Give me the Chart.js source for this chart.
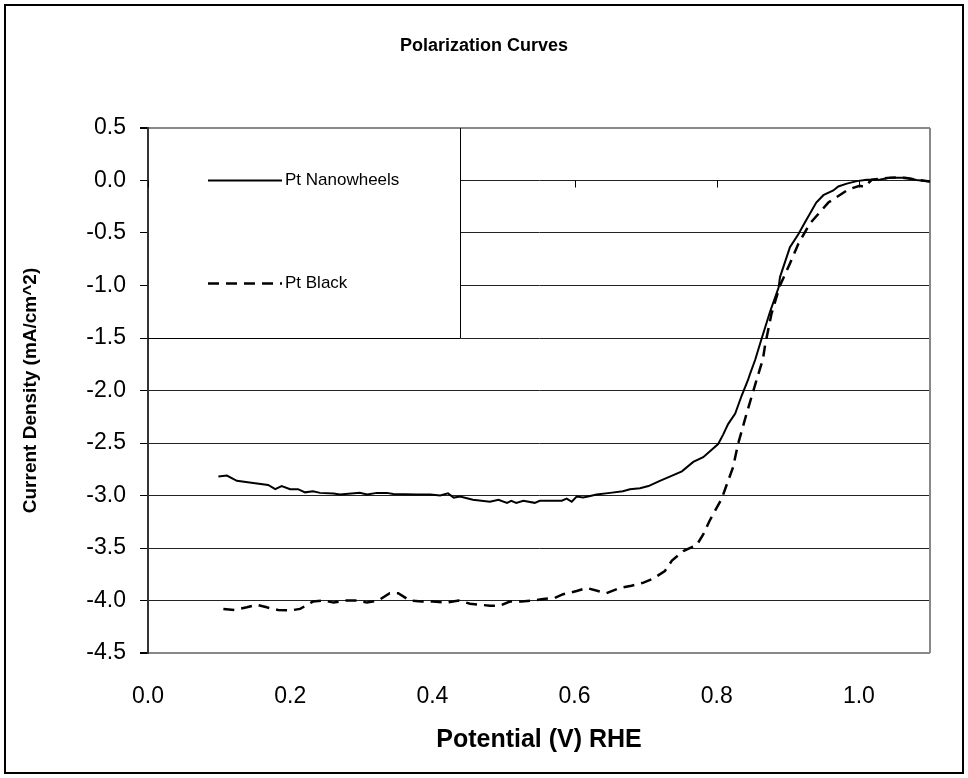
<!DOCTYPE html>
<html>
<head>
<meta charset="utf-8">
<title>Polarization Curves</title>
<script src="https://cdn.jsdelivr.net/npm/chart.js@4.4.0/dist/chart.umd.min.js"></script>
<style>
  html, body { margin: 0; padding: 0; background: #fff; }
  canvas { display: block; }
</style>
</head>
<body>
<canvas id="polarChart" width="968" height="778"></canvas>
<script>
// Potential (V vs RHE) and current density (mA/cm^2)
const potentialNanowheels = [
    0.099, 0.111, 0.125, 0.148, 0.169, 0.179, 0.188, 0.200, 0.211, 0.221,
    0.232, 0.242, 0.261, 0.270, 0.298, 0.308, 0.322, 0.336, 0.345, 0.378,
    0.397, 0.411, 0.422, 0.430, 0.439, 0.457, 0.481, 0.493, 0.505, 0.511,
    0.518, 0.528, 0.544, 0.551, 0.582, 0.589, 0.596, 0.603, 0.612, 0.619,
    0.631, 0.650, 0.668, 0.678, 0.692, 0.704, 0.720, 0.734, 0.751, 0.767,
    0.781, 0.802, 0.809, 0.816, 0.826, 0.835, 0.844, 0.847, 0.854, 0.863,
    0.875, 0.887, 0.889, 0.903, 0.915, 0.924, 0.940, 0.950, 0.964, 0.971,
    0.983, 0.997, 1.011, 1.030, 1.044, 1.067, 1.081, 1.100
];
const currentNanowheels = [
    -2.82, -2.81, -2.86, -2.88, -2.90, -2.94, -2.91, -2.94, -2.94, -2.97,
    -2.96, -2.975, -2.98, -2.99, -2.975, -2.99, -2.975, -2.975, -2.985, -2.99,
    -2.99, -3.00, -2.98, -3.02, -3.01, -3.04, -3.06, -3.04, -3.07, -3.05,
    -3.07, -3.05, -3.07, -3.05, -3.05, -3.03, -3.06, -3.01, -3.02, -3.01,
    -2.99, -2.975, -2.96, -2.94, -2.93, -2.91, -2.86, -2.82, -2.77, -2.68,
    -2.635, -2.51, -2.42, -2.32, -2.22, -2.05, -1.90, -1.84, -1.71, -1.51,
    -1.25, -1.02, -0.92, -0.635, -0.51, -0.40, -0.21, -0.14, -0.095, -0.057,
    -0.03, -0.006, 0.007, 0.01, 0.026, 0.026, 0.005, -0.01
];
const potentialBlack = [
    0.106, 0.122, 0.139, 0.153, 0.167, 0.183, 0.200, 0.214, 0.232, 0.247,
    0.261, 0.277, 0.294, 0.308, 0.324, 0.340, 0.352, 0.368, 0.385, 0.401,
    0.420, 0.437, 0.453, 0.481, 0.495, 0.509, 0.525, 0.542, 0.556, 0.572,
    0.584, 0.603, 0.617, 0.633, 0.645, 0.664, 0.680, 0.697, 0.711, 0.727,
    0.737, 0.753, 0.772, 0.781, 0.790, 0.807, 0.823, 0.830, 0.842, 0.856,
    0.865, 0.868, 0.877, 0.889, 0.903, 0.915, 0.931, 0.957, 0.985, 1.001,
    1.008, 1.018, 1.040, 1.055, 1.070, 1.085, 1.100
];
const currentBlack = [
    -4.08, -4.09, -4.065, -4.04, -4.065, -4.09, -4.095, -4.08, -4.01, -4.00,
    -4.02, -4.00, -4.00, -4.02, -4.00, -3.93, -3.93, -4.00, -4.01, -4.01,
    -4.02, -4.00, -4.03, -4.05, -4.05, -4.01, -4.01, -4.00, -3.985, -3.975,
    -3.94, -3.91, -3.88, -3.91, -3.93, -3.88, -3.86, -3.83, -3.79, -3.72,
    -3.62, -3.53, -3.47, -3.37, -3.24, -3.03, -2.73, -2.51, -2.22, -1.90,
    -1.70, -1.57, -1.27, -1.00, -0.79, -0.60, -0.41, -0.21, -0.086, -0.05,
    -0.06, 0.007, 0.025, 0.03, 0.02, 0.005, -0.01
];

const chartTitle = 'Polarization Curves';
const seriesNames = ['Pt Nanowheels', 'Pt Black'];
const xTickValues = [0.0, 0.2, 0.4, 0.6, 0.8, 1.0];
const yTickValues = [0.5, 0.0, -0.5, -1.0, -1.5, -2.0, -2.5, -3.0, -3.5, -4.0, -4.5];

const fontFamily = '"Liberation Sans", Arial, sans-serif';

function toPoints(xs, ys) {
    return xs.map((x, i) => ({ x: x, y: ys[i] }));
}

// White background, chart title and the outer frame around the whole chart
const chartFrame = {
    id: 'chartFrame',
    beforeDraw(chart) {
        const ctx = chart.ctx;
        ctx.save();
        ctx.fillStyle = '#fff';
        ctx.fillRect(0, 0, chart.width, chart.height);
        ctx.restore();
    },
    afterDraw(chart) {
        const ctx = chart.ctx;
        ctx.save();
        ctx.fillStyle = '#000';
        ctx.font = 'bold 18px ' + fontFamily;
        ctx.textAlign = 'center';
        ctx.textBaseline = 'middle';
        ctx.fillText(chartTitle, chart.width / 2, 46);
        ctx.strokeStyle = '#000';
        ctx.lineWidth = 2;
        ctx.strokeRect(5, 5, chart.width - 10, chart.height - 10);
        ctx.restore();
    }
};

// x axis crosses at y = 0: small tick marks there, plus right border of the plot
const zeroAxis = {
    id: 'zeroAxis',
    beforeDatasetsDraw(chart) {
        const { ctx, chartArea, scales } = chart;
        const y0 = scales.y.getPixelForValue(0);
        ctx.save();
        ctx.strokeStyle = '#000';
        ctx.lineWidth = 1;
        xTickValues.forEach(v => {
            const px = Math.round(scales.x.getPixelForValue(v)) + 0.5;
            ctx.beginPath();
            ctx.moveTo(px, y0);
            ctx.lineTo(px, y0 + 7);
            ctx.stroke();
        });
        ctx.strokeStyle = '#888';
        ctx.lineWidth = 2;
        ctx.beginPath();
        ctx.moveTo(chartArea.right, chartArea.top);
        ctx.lineTo(chartArea.right, chartArea.bottom);
        ctx.stroke();
        ctx.restore();
    }
};

// Legend box sitting inside the plot, top-left corner
const boxLegend = {
    id: 'boxLegend',
    afterDatasetsDraw(chart) {
        const { ctx, chartArea } = chart;
        const left = chartArea.left, top = chartArea.top;
        const w = chartArea.width * 0.399;
        const h = chartArea.height * 0.4;
        ctx.save();
        ctx.fillStyle = '#fff';
        ctx.fillRect(left + 1, top + 1, w, h);
        ctx.strokeStyle = '#000';
        ctx.lineWidth = 1;
        ctx.beginPath();
        ctx.moveTo(Math.round(left + w) + 0.5, top);
        ctx.lineTo(Math.round(left + w) + 0.5, Math.round(top + h) + 0.5);
        ctx.lineTo(left, Math.round(top + h) + 0.5);
        ctx.stroke();

        const rows = [0.248, 0.738];
        chart.data.datasets.forEach((ds, i) => {
            const yy = Math.round(top + h * rows[i]) + 0.5;
            ctx.strokeStyle = ds.borderColor;
            ctx.lineWidth = ds.borderWidth;
            ctx.setLineDash(ds.borderDash || []);
            ctx.beginPath();
            ctx.moveTo(left + 60, yy);
            ctx.lineTo(left + 134, yy);
            ctx.stroke();
            ctx.setLineDash([]);
            ctx.fillStyle = '#000';
            ctx.font = '17px ' + fontFamily;
            ctx.textBaseline = 'middle';
            ctx.textAlign = 'left';
            ctx.fillText(ds.label, left + 137, yy);
        });
        ctx.restore();
    }
};

const ctx = document.getElementById('polarChart').getContext('2d');

new Chart(ctx, {
    type: 'line',
    data: {
        datasets: [
            {
                label: seriesNames[0],
                data: toPoints(potentialNanowheels, currentNanowheels),
                borderColor: '#000',
                borderWidth: 2,
                pointRadius: 0,
                tension: 0,
                fill: false
            },
            {
                label: seriesNames[1],
                data: toPoints(potentialBlack, currentBlack),
                borderColor: '#000',
                borderWidth: 2.5,
                borderDash: [11, 7],
                pointRadius: 0,
                tension: 0,
                fill: false
            }
        ]
    },
    options: {
        responsive: false,
        animation: false,
        layout: {
            padding: { left: 0, right: 38, top: 128, bottom: 0 }
        },
        scales: {
            x: {
                type: 'linear',
                min: 0,
                max: 1.1,
                afterFit: scale => { scale.height = 125; },
                afterBuildTicks: scale => { scale.ticks = xTickValues.map(v => ({ value: v })); },
                grid: { display: true, drawOnChartArea: false, drawTicks: false },
                border: { display: false },
                ticks: {
                    padding: 30,
                    color: '#000',
                    font: { family: fontFamily, size: 23 },
                    callback: v => v.toFixed(1)
                },
                title: {
                    display: true,
                    text: 'Potential (V) RHE',
                    color: '#000',
                    font: { family: fontFamily, size: 25, weight: 'bold' },
                    padding: { top: 0, bottom: 23 }
                }
            },
            y: {
                min: -4.5,
                max: 0.5,
                afterFit: scale => { scale.width = 148; },
                afterBuildTicks: scale => { scale.ticks = yTickValues.map(v => ({ value: v })); },
                grid: {
                    color: c => (c.tick && (c.tick.value === 0.5 || c.tick.value === -4.5)) ? '#888' : '#222',
                    lineWidth: c => (c.tick && (c.tick.value === 0.5 || c.tick.value === -4.5)) ? 2 : 1,
                    tickColor: '#000',
                    tickLength: 8
                },
                border: { display: true, color: '#333', width: 2 },
                ticks: {
                    padding: 14,
                    color: '#000',
                    font: { family: fontFamily, size: 23 },
                    callback: v => v.toFixed(1)
                },
                title: {
                    display: true,
                    text: 'Current Density (mA/cm^2)',
                    color: '#000',
                    font: { family: fontFamily, size: 19, weight: 'bold' },
                    padding: { top: 19, bottom: 0 }
                }
            }
        },
        plugins: {
            legend: { display: false },
            tooltip: { enabled: false },
            title: { display: false }
        }
    },
    plugins: [chartFrame, zeroAxis, boxLegend]
});
</script>
</body>
</html>
